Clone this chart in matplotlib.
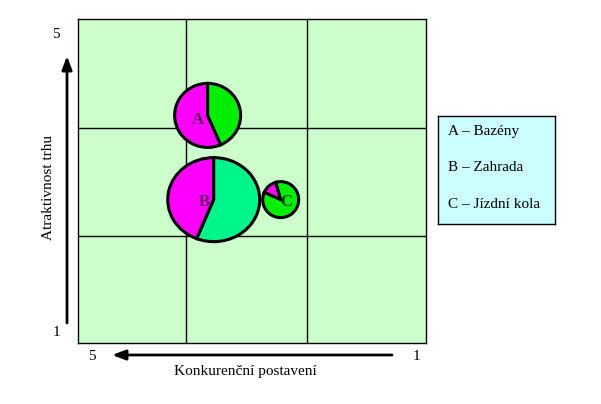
import numpy as np
import matplotlib
matplotlib.use("Agg")
import matplotlib.pyplot as plt
from matplotlib.patches import Wedge
from matplotlib.transforms import Affine2D, ScaledTranslation

plt.rcParams["font.family"] = ["Liberation Serif", "DejaVu Serif"]

# data
names = ["A", "B", "C"]
legend_labels = ["A \u2013 Bazény", "B \u2013 Zahrada", "C \u2013 Jízdní kola"]
competitive = [3.51, 3.44, 2.67]      # x: Konkurenční postavení (5 .. 1)
attractiveness = [3.81, 2.77, 2.77]   # y: Atraktivnost trhu (1 .. 5)
market_rx = [0.33, 0.46, 0.18]        # bubble radius (inches), horizontal
market_ry = [0.32, 0.42, 0.18]        # bubble radius (inches), vertical
share_magenta = [0.565, 0.44, 0.14]
start_angle = [90, 90, 106]
other_colors = ["#00ee00", "#00f58a", "#00ee00"]
label_colors = ["#6a006a", "#6a006a", "#004a00"]
label_offset = [(-10, -5), (-9, -2), (5, -2)]
x_grid = [3.76, 2.37]
y_grid = [2.32, 3.65]

W, H = 601, 404
fig = plt.figure(figsize=(W / 100, H / 100), dpi=100)
fig.patch.set_facecolor("white")

ax = fig.add_axes([78 / W, (H - 343) / H, 348 / W, 324 / H])
ax.set_facecolor("#ccffcc")
ax.set_xlim(5, 1)
ax.set_ylim(1, 5)
ax.set_xticks([])
ax.set_yticks([])
for sp in ax.spines.values():
    sp.set_linewidth(1.0)
    sp.set_color("black")
for gx in x_grid:
    ax.axvline(gx, color="black", lw=1.0)
for gy in y_grid:
    ax.axhline(gy, color="black", lw=1.0)

for i, name in enumerate(names):
    tr = (Affine2D().scale(market_rx[i], market_ry[i]) + fig.dpi_scale_trans
          + ScaledTranslation(competitive[i], attractiveness[i], ax.transData))
    a0 = start_angle[i]
    a1 = a0 + 360 * share_magenta[i]
    ax.add_patch(Wedge((0, 0), 1, a0, a1, facecolor="#ff00ff", edgecolor="black",
                       lw=2.2, transform=tr, zorder=3))
    ax.add_patch(Wedge((0, 0), 1, a1, a0 + 360, facecolor=other_colors[i],
                       edgecolor="black", lw=2.2, transform=tr, zorder=3))
    ax.annotate(name, (competitive[i], attractiveness[i]), xytext=label_offset[i],
                textcoords="offset pixels", ha="center", va="center",
                fontsize=12, fontweight="bold", color=label_colors[i], zorder=4)

# axis arrows
arrow_kw = dict(arrowstyle="-|>,head_length=0.8,head_width=0.3", color="black", lw=2.0,
                shrinkA=0, shrinkB=0)
fig.add_artist(plt.Annotation("", xy=(67, H - 56), xytext=(67, H - 323),
                              xycoords="figure pixels", textcoords="figure pixels",
                              arrowprops=arrow_kw))
fig.add_artist(plt.Annotation("", xy=(112, H - 355), xytext=(392, H - 355),
                              xycoords="figure pixels", textcoords="figure pixels",
                              arrowprops=arrow_kw))

fig.text(56 / W, 1 - 34 / H, "5", ha="center", va="center", fontsize=11)
fig.text(56 / W, 1 - 333 / H, "1", ha="center", va="center", fontsize=11)
fig.text(92 / W, 1 - 356 / H, "5", ha="center", va="center", fontsize=11)
fig.text(416 / W, 1 - 356 / H, "1", ha="center", va="center", fontsize=11)
fig.text(245 / W, 1 - 371 / H, "Konkurenční postavení", ha="center", va="center", fontsize=11)
fig.text(49 / W, 1 - 187 / H, "Atraktivnost trhu", ha="center", va="center",
         fontsize=11, rotation=90)

# legend box
lax = fig.add_axes([438 / W, (H - 224) / H, 117 / W, 108 / H])
lax.set_facecolor("#ccffff")
lax.set_xticks([])
lax.set_yticks([])
for sp in lax.spines.values():
    sp.set_linewidth(1.0)
for lbl, ypx in zip(legend_labels, [131, 168, 204]):
    fig.text(448 / W, 1 - ypx / H, lbl, ha="left", va="center", fontsize=11)

fig.savefig("out.png", dpi=100)
